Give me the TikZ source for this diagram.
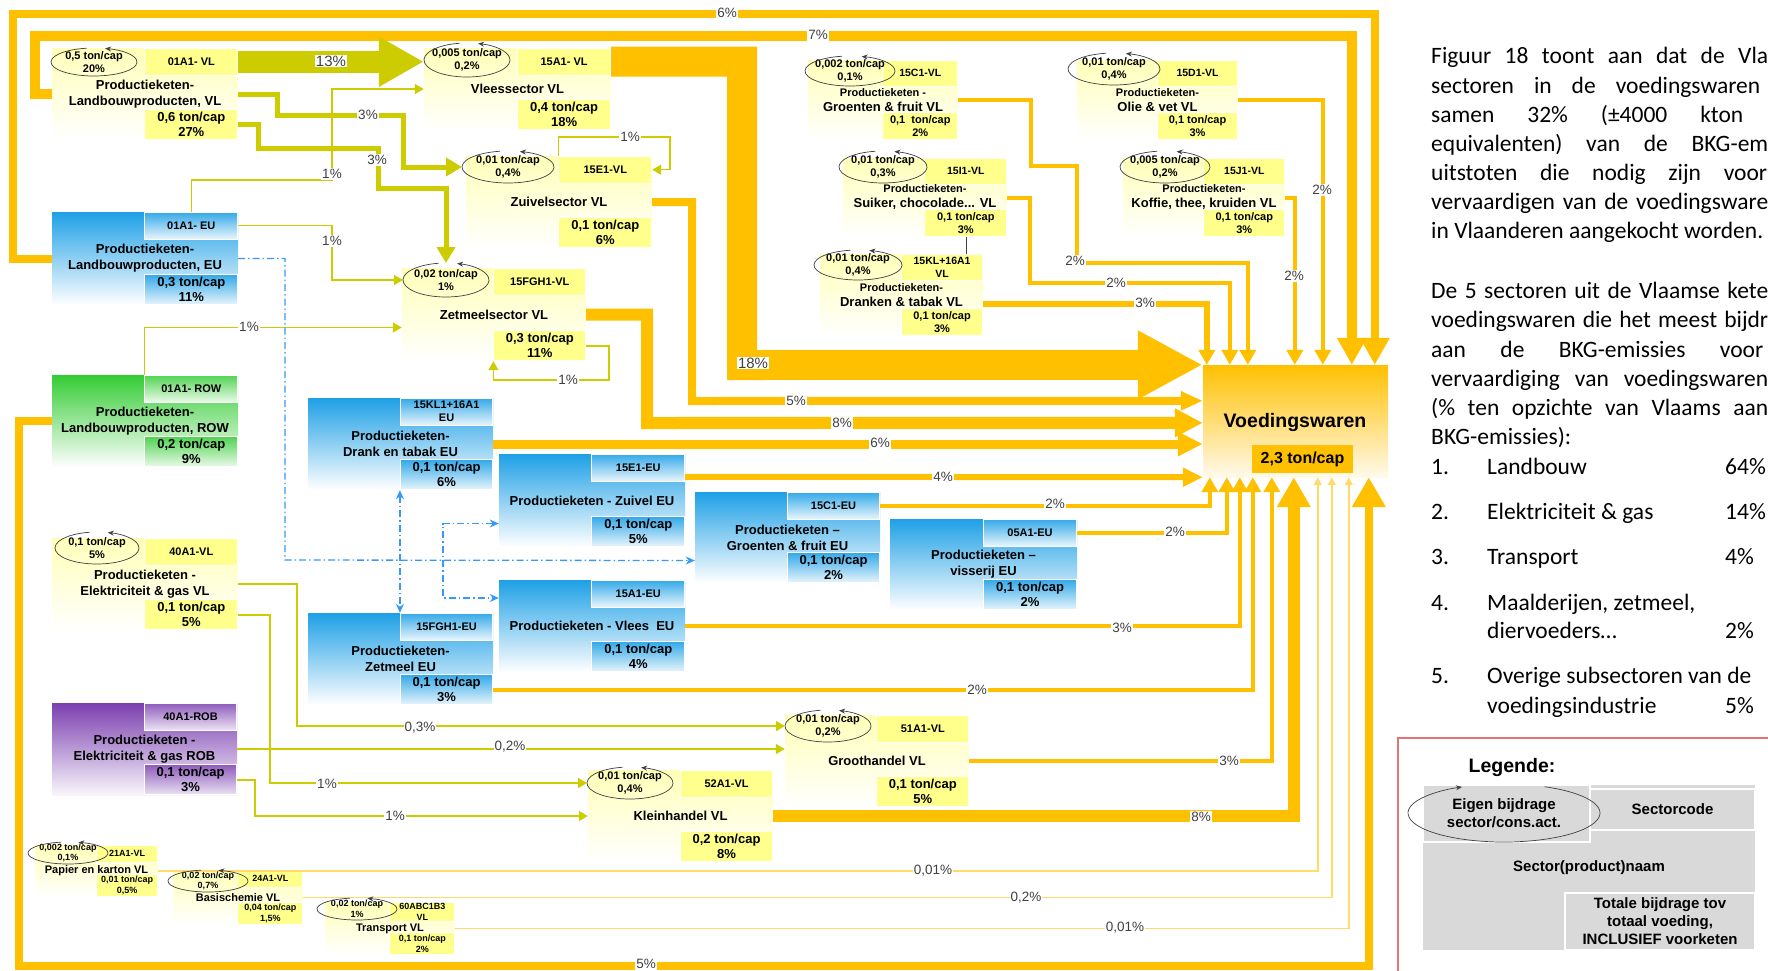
\documentclass[tikz,border=0pt]{standalone}
\usepackage{fontspec}
\setmainfont{Liberation Sans}
\newfontfamily\cali{Carlito}
\usetikzlibrary{arrows.meta}

\definecolor{orng}{HTML}{FFC000}
\definecolor{olv}{HTML}{CCCC00}
\definecolor{lyel}{HTML}{FFDB6E}
\definecolor{bluln}{HTML}{3399FF}
\definecolor{txtg}{HTML}{404040}
\definecolor{cylw}{HTML}{FFFF8C}
\definecolor{cylb}{HTML}{FFFFB8}
\definecolor{cblu}{HTML}{1EA0E6}
\definecolor{cgrn}{HTML}{33CC33}
\definecolor{cprp}{HTML}{7B3FB0}
\definecolor{lgray}{HTML}{D9D9D9}
\definecolor{legred}{HTML}{E57373}

\tikzset{
  sbody/.style={}, scell/.style={}, scode/.style={}, sval/.style={}, stitle/.style={},
  yel/.style={sbody/.style={top color=cylb, bottom color=white},
    scell/.style={fill=cylw, draw=white, line width=0.8}},
  blu/.style={sbody/.style={top color=cblu, bottom color=white},
    scell/.style={top color=cblu!90, bottom color=cblu!10, draw=white, line width=0.8}},
  grn/.style={sbody/.style={top color=cgrn, bottom color=white},
    scell/.style={top color=cgrn!85, bottom color=cgrn!10, draw=white, line width=0.8}},
  prp/.style={sbody/.style={top color=cprp, bottom color=cprp!5},
    scell/.style={top color=cprp!85, bottom color=cprp!15, draw=white, line width=0.8}},
  big/.style={scode/.style={minimum height=27, font=\bfseries\fontsize{11}{13}\selectfont},
    sval/.style={minimum height=30, font=\bfseries\fontsize{13}{15}\selectfont},
    stitle/.style={font=\bfseries\fontsize{13}{16}\selectfont}},
  mid/.style={scode/.style={minimum height=26, font=\bfseries\fontsize{10.5}{13.5}\selectfont},
    sval/.style={minimum height=27, font=\bfseries\fontsize{11}{13.5}\selectfont},
    stitle/.style={font=\bfseries\fontsize{13}{15}\selectfont}},
  tiny/.style={scode/.style={minimum height=17, font=\bfseries\fontsize{9}{11}\selectfont},
    sval/.style={minimum height=22, font=\bfseries\fontsize{9}{11}\selectfont},
    stitle/.style={font=\bfseries\fontsize{11}{13}\selectfont}}
}

\newcommand{\sectornode}[8]{%
  \begin{scope}[#1]
    \node[sbody, inner sep=0, minimum width=#4, minimum height=#5] (#2) at (#3) {};
    \node[scell, scode, inner sep=1, align=center, anchor=north east, minimum width=#4/2] (#2c) at (#2.north east) {#6};
    \node[scell, sval, inner sep=1, align=center, anchor=south east, minimum width=#4/2] (#2v) at (#2.south east) {#8};
    \node[stitle, align=center, inner sep=0] (#2t) at (#2.center) {#7};
  \end{scope}}

\newcommand{\eigenloop}[6][]{%
  \node[eigtxt, #1] (#2) at (#3) {#6};
  \draw[eigloop] ([shift={(-100:#4 and #5)}]#2.center) arc[start angle=-100, end angle=-435, x radius=#4, y radius=#5];}

\begin{document}
\begin{tikzpicture}[x=1pt, y=-1pt,
  ora/.style={draw=orng},
  olvl/.style={draw=olv},
  lyl/.style={draw=lyel, line width=1.5, -{Triangle[length=8pt,width=8pt]}},
  bdash/.style={draw=bluln, line width=1.3, dash pattern=on 7pt off 3pt on 1.5pt off 3pt},
  pct/.style={fill=white, text=txtg, inner sep=1, font=\fontsize{13.5}{15}\selectfont},
  eigtxt/.style={font=\bfseries\fontsize{11}{13}\selectfont, align=center, inner sep=0},
  eigloop/.style={draw=txtg, line width=0.7, -{Stealth[length=6pt,width=5pt]}},
  voedbody/.style={top color=orng, bottom color=orng!8},
  rtxt/.style={font=\cali\fontsize{23.5}{29}\selectfont, inner sep=0, anchor=base west},
  lgbox/.style={fill=lgray, inner sep=0, font=\bfseries\fontsize{15}{18}\selectfont, align=center}]

\fill[white] (0,0) rectangle (1768,970);
\useasboundingbox (0,0) rectangle (1768,970);
\clip (0,0) rectangle (1768,970);

\sectornode{yel,big}{vl01}{145,94}{186}{92}{01A1- VL}{Productieketen-\\Landbouwproducten, VL}{0,6 ton/cap\\27\%}
\sectornode{blu,big}{eu01}{145,258.5}{186}{93}{01A1- EU}{Productieketen-\\Landbouwproducten, EU}{0,3 ton/cap\\11\%}
\sectornode{grn,big}{row01}{145,421}{186}{92}{01A1- ROW}{Productieketen-\\Landbouwproducten, ROW}{0,2 ton/cap\\9\%}
\sectornode{yel,big}{vl40}{145,584}{186}{92}{40A1-VL}{Productieketen -\\Elektriciteit \& gas VL}{0,1 ton/cap\\5\%}
\sectornode{prp,big}{rob40}{144.5,749}{185}{92}{40A1-ROB}{Productieketen -\\Elektriciteit \& gas ROB}{0,1 ton/cap\\3\%}
\sectornode{yel,big}{vl15a}{517.5,89}{187}{82}{15A1- VL}{Vleessector VL}{0,4 ton/cap\\18\%}
\sectornode{yel,big}{vl15e}{559,202}{186}{92}{15E1-VL}{Zuivelsector VL}{0,1 ton/cap\\6\%}
\sectornode{yel,big}{vl15fgh}{494,314.5}{184}{93}{15FGH1-VL}{Zetmeelsector VL}{0,3 ton/cap\\11\%}
\sectornode{blu,big}{eu15kl}{400.5,444}{185}{92}{15KL1+16A1\\EU}{Productieketen-\\Drank en tabak EU}{0,1 ton/cap\\6\%}
\sectornode{blu,big}{eu15e}{592,500.5}{186}{93}{15E1-EU}{Productieketen - Zuivel EU}{0,1 ton/cap\\5\%}
\sectornode{blu,big}{eu15c}{787.5,537.5}{185}{91}{15C1-EU}{Productieketen --\\Groenten \& fruit EU}{0,1 ton/cap\\2\%}
\sectornode{blu,big}{eu05}{983.5,564.5}{187}{91}{05A1-EU}{Productieketen --\\visserij EU}{0,1 ton/cap\\2\%}
\sectornode{blu,big}{eu15fgh}{400.5,659}{185}{92}{15FGH1-EU}{Productieketen-\\Zetmeel EU}{0,1 ton/cap\\3\%}
\sectornode{blu,big}{eu15a}{592,626}{186}{92}{15A1-EU}{Productieketen - Vlees\ \ EU}{0,1 ton/cap\\4\%}
\sectornode{yel,big}{vl51}{877,761}{184}{92}{51A1-VL}{Groothandel VL}{0,1 ton/cap\\5\%}
\sectornode{yel,big}{vl52}{680.5,816}{185}{92}{52A1-VL}{Kleinhandel VL}{0,2 ton/cap\\8\%}
\sectornode{yel,mid}{vl15c}{883,100}{150}{80}{15C1-VL}{{\fontsize{11}{13}\selectfont Productieketen -}\\Groenten \& fruit VL}{0,1\ \ ton/cap\\2\%}
\sectornode{yel,mid}{vl15i}{925,197.5}{164}{79}{15I1-VL}{{\fontsize{11}{13}\selectfont Productieketen-}\\Suiker, chocolade... VL}{0,1 ton/cap\\3\%}
\sectornode{yel,mid}{vl15kl}{901.5,295}{163}{82}{15KL+16A1\\VL}{{\fontsize{11}{13}\selectfont Productieketen-}\\Dranken \& tabak VL}{0,1 ton/cap\\3\%}
\sectornode{yel,mid}{vl15d}{1157.5,100}{161}{80}{15D1-VL}{{\fontsize{11}{13}\selectfont Productieketen-}\\Olie \& vet VL}{0,1 ton/cap\\3\%}
\sectornode{yel,mid}{vl15j}{1204,197.5}{162}{79}{15J1-VL}{{\fontsize{11}{13}\selectfont Productieketen-}\\Koffie, thee, kruiden VL}{0,1 ton/cap\\3\%}
\sectornode{yel,tiny}{vl21}{96.5,871}{123}{52}{21A1-VL}{Papier en karton VL}{0,01 ton/cap\\0,5\%}
\sectornode{yel,tiny}{vl24}{238,897.5}{130}{55}{24A1-VL}{Basischemie VL}{0,04 ton/cap\\1,5\%}
\sectornode{yel,tiny}{vl60}{390,928.5}{130}{53}{60ABC1B3\\VL}{Transport VL}{0,1 ton/cap\\2\%}

\node[voedbody, minimum width=185, minimum height=112] (voed) at (1295.5,421) {};
\node[font=\bfseries\fontsize{19.5}{22}\selectfont] (voedt) at (1295,422) {Voedingswaren};
\node[fill=orng, minimum width=101, minimum height=28, inner sep=0, font=\bfseries\fontsize{16}{18}\selectfont] (voedv) at (1302.5,459) {2,3 ton/cap};

\draw[lyl] (vl21.east) -| ([xshift=115pt]voed.south west);
\draw[lyl] (vl24.east) -| ([xshift=129pt]voed.south west);
\draw[lyl] (vl60.east) -| ([xshift=146pt]voed.south west);

\eigenloop{e01}{94,62}{43}{14}{0,5 ton/cap\\20\%}
\eigenloop{e40}{97,548}{42}{16}{0,1 ton/cap\\5\%}
\eigenloop{e15a}{467,60}{43}{17}{0,005 ton/cap\\0,2\%}
\eigenloop{e15e}{508,167}{46}{16}{0,01 ton/cap\\0,4\%}
\eigenloop{e15fgh}{446,280}{43}{17}{0,02 ton/cap\\1\%}
\eigenloop{e15c}{850,71}{45}{15}{0,002 ton/cap\\0,1\%}
\eigenloop{e15i}{883,167}{44}{16}{0,01 ton/cap\\0,3\%}
\eigenloop{e15kl}{858,265}{44}{15}{0,01 ton/cap\\0,4\%}
\eigenloop{e15d}{1114,69}{46}{16}{0,01 ton/cap\\0,4\%}
\eigenloop{e15j}{1165,167}{45}{16}{0,005 ton/cap\\0,2\%}
\eigenloop{e51}{828,726}{43}{16}{0,01 ton/cap\\0,2\%}
\eigenloop{e52}{630,783}{43}{16}{0,01 ton/cap\\0,4\%}
\eigenloop[font=\bfseries\fontsize{9}{10.5}\selectfont]{e21}{68,853}{40}{11}{0,002 ton/cap\\0,1\%}
\eigenloop[font=\bfseries\fontsize{9}{10.5}\selectfont]{e24}{208,881}{40}{11}{0,02 ton/cap\\0,7\%}
\eigenloop[font=\bfseries\fontsize{9}{10.5}\selectfont]{e60}{357,909}{40}{11}{0,02 ton/cap\\1\%}

\draw[ora, line width=10, -{Triangle[length=27pt,width=28pt]}] (vl01.west) -| (35,36) -| ([xshift=149pt]voed.north west);
\draw[ora, line width=8, -{Triangle[length=27pt,width=28pt]}] (eu01.west) -| (13,14) -| ([xshift=172pt]voed.north west);
\draw[ora, line width=30, -{Triangle[length=65pt,width=64pt]}] (vl15ac.east) -| (742,365) -- (voed.north west);
\draw[ora, line width=8, -{Triangle[length=22pt,width=18pt]}] (vl15e.east) -| (692,401) -- ([yshift=-36pt]voed.north west);
\draw[ora, line width=12, -{Triangle[length=28pt,width=27pt]}] (vl15fgh.east) -| (647,423) -- ([yshift=-58pt]voed.north west);
\draw[ora, line width=9, -{Triangle[length=25pt,width=23pt]}] (eu15kl.east) -- (eu15kl.east -| voed.west);
\draw[ora, line width=6, -{Triangle[length=20pt,width=18pt]}] ([yshift=-23pt]eu15ec.north east) -- (voed.south west);
\draw[ora, line width=4, -{Triangle[length=15pt,width=16pt]}] (vl15c.east) -| (1031,166) -| (1077,263) -| ([xshift=45pt]voed.north west);
\draw[ora, line width=4, -{Triangle[length=15pt,width=16pt]}] (vl15i.east) -| (1030,283) -| ([xshift=27pt]voed.north west);
\draw[ora, line width=6, -{Triangle[length=15pt,width=16pt]}] ([yshift=-9pt]vl15kl.east) -| ([xshift=4pt]voed.north west);
\draw[ora, line width=4, -{Triangle[length=15pt,width=16pt]}] (vl15d.east) -| ([xshift=120pt]voed.north west);
\draw[ora, line width=4, -{Triangle[length=15pt,width=16pt]}] (vl15j.east) -| ([xshift=92pt]voed.north west);
\draw[ora, line width=4, -{Triangle[length=15pt,width=16pt]}] (eu15cc.east) -| ([xshift=7pt]voed.south west);
\draw[ora, line width=4, -{Triangle[length=15pt,width=16pt]}] (eu05c.east) -| ([xshift=24pt]voed.south west);
\draw[ora, line width=4, -{Triangle[length=15pt,width=16pt]}] (eu15a.east) -| ([xshift=37pt]voed.south west);
\draw[ora, line width=4, -{Triangle[length=15pt,width=16pt]}] (eu15fghv.east) -| ([xshift=50pt]voed.south west);
\draw[ora, line width=4, -{Triangle[length=15pt,width=16pt]}] (vl51.east) -| ([xshift=69pt]voed.south west);
\draw[ora, line width=12, -{Triangle[length=30pt,width=32pt]}] (vl52.east) -| ([xshift=91pt]voed.south west);
\draw[ora, line width=8, -{Triangle[length=30pt,width=32pt]}] (row01.west) -| (19,966) -| ([xshift=166pt]voed.south west);

\draw[olvl, line width=22, -{Triangle[length=45pt,width=47pt]}] (vl01c.east) -- (vl01c.east -| vl15a.west);
\draw[olvl, line width=5, -{Triangle[length=16pt,width=18pt]}] (vl01.east) -| (277,115) -| (403,167) -- ([xshift=-46pt]e15e.center);
\draw[olvl, line width=5, -{Triangle[length=16pt,width=18pt]}] (vl01v.east) -| (258,148) -| (378,188) -| ([yshift=17pt]e15fgh.center);
\draw[olvl, line width=1.5, -{Triangle[length=9pt,width=10pt]}] (eu01c.north) |- (332,180) |- (vl15a.west);
\draw[olvl, line width=1.5, -{Triangle[length=9pt,width=10pt]}] (eu01c.east) -| (332,280) -- ([xshift=-43pt]e15fgh.center);
\draw[olvl, line width=1.5, -{Triangle[length=9pt,width=10pt]}] (row01c.north west) |- ([yshift=-13pt]vl15fgh.west);
\draw[olvl, line width=1.5, -{Triangle[length=9pt,width=10pt]}] (vl15fghv.east) -| (609,380) -| (vl15fghv.south west);
\draw[olvl, line width=1.5, -{Triangle[length=9pt,width=10pt]}] (vl15ec.north west) |- (670,137) |- (vl15ec.east);
\draw[olvl, line width=1.5, -{Triangle[length=9pt,width=10pt]}] (vl40.east) -| (297,726) -- ([xshift=-43pt]e51.center);
\draw[olvl, line width=1.5, -{Triangle[length=9pt,width=10pt]}] (vl40v.east) -| (270,783) -- ([xshift=-43pt]e52.center);
\draw[olvl, line width=1.5, -{Triangle[length=9pt,width=10pt]}] (rob40.east) -- (rob40.east -| vl51.west);
\draw[olvl, line width=1.5, -{Triangle[length=9pt,width=10pt]}] (rob40v.east) -| (255,816) -- (vl52.west);

\draw[bdash, -{Stealth[length=9pt,width=8pt]}] (eu01.east) -| (285,560) -- ([yshift=-23pt]eu15c.west);
\draw[bdash, {Stealth[length=9pt,width=8pt]}-{Stealth[length=9pt,width=8pt]}] (eu15klv.south west) -- (eu15fghc.north west);
\draw[bdash, {Stealth[length=9pt,width=8pt]}-{Stealth[length=9pt,width=8pt]}] ([yshift=-23pt]eu15e.west) -| (443,598) -- ([yshift=28pt]eu15a.west);
\draw[txtg, line width=0.6] (vl15iv.south) -- (vl15iv.south |- vl15klc.north);

\node[pct, font=\fontsize{15}{16}\selectfont] (p13) at (331,61) {13\%};
\node[pct] (p3a) at (368,115) {3\%};
\node[pct] (p3b) at (377,160) {3\%};
\node[pct] (p1a) at (332,174) {1\%};
\node[pct] (p1b) at (332,241) {1\%};
\node[pct] (p1c) at (249,327) {1\%};
\node[pct] (p1d) at (630,137) {1\%};
\node[pct] (p1e) at (568,380) {1\%};
\node[pct] (p6a) at (727,13) {6\%};
\node[pct] (p7) at (818,35) {7\%};
\node[pct, font=\fontsize{15}{16}\selectfont] (p18) at (753,363) {18\%};
\node[pct] (p5a) at (796,401) {5\%};
\node[pct] (p8a) at (842,423) {8\%};
\node[pct] (p6b) at (880,443) {6\%};
\node[pct] (p4) at (943,477) {4\%};
\node[pct] (p2a) at (1075,261) {2\%};
\node[pct] (p2b) at (1116,283) {2\%};
\node[pct] (p3c) at (1145,303) {3\%};
\node[pct] (p2c) at (1322,190) {2\%};
\node[pct] (p2d) at (1294,276) {2\%};
\node[pct] (p2e) at (1055,504) {2\%};
\node[pct] (p2f) at (1175,532) {2\%};
\node[pct] (p3d) at (1122,628) {3\%};
\node[pct] (p2g) at (977,690) {2\%};
\node[pct] (p03) at (420,728) {0,3\%};
\node[pct] (p02a) at (510,747) {0,2\%};
\node[pct] (p1f) at (327,784) {1\%};
\node[pct] (p1g) at (395,816) {1\%};
\node[pct] (p3e) at (1229,761) {3\%};
\node[pct] (p8b) at (1201,817) {8\%};
\node[pct] (p001a) at (933,871) {0,01\%};
\node[pct] (p02b) at (1026,898) {0,2\%};
\node[pct] (p001b) at (1125,928) {0,01\%};
\node[pct] (p5b) at (646,964) {5\%};

\node[rtxt] (t1) at (1431,63) {\makebox[337pt][s]{Figuur 18 toont aan dat de Vla}};
\node[rtxt] (t2) at (1431,93) {\makebox[329pt][s]{sectoren in de voedingswaren}};
\node[rtxt] (t3) at (1431,122) {\makebox[312pt][s]{samen 32\% (±4000 kton}};
\node[rtxt] (t4) at (1431,151) {\makebox[337pt][s]{equivalenten) van de BKG-em}};
\node[rtxt] (t5) at (1431,180) {\makebox[336pt][s]{uitstoten die nodig zijn voor}};
\node[rtxt] (t6) at (1431,209) {\makebox[337pt][s]{vervaardigen van de voedingsware}};
\node[rtxt] (t7) at (1431,238) {in Vlaanderen aangekocht worden.};
\node[rtxt] (t8) at (1431,298) {\makebox[337pt][s]{De 5 sectoren uit de Vlaamse kete}};
\node[rtxt] (t9) at (1431,327) {\makebox[337pt][s]{voedingswaren die het meest bijdr}};
\node[rtxt] (t10) at (1431,357) {\makebox[332pt][s]{aan de BKG-emissies voor}};
\node[rtxt] (t11) at (1431,386) {\makebox[337pt][s]{vervaardiging van voedingswaren}};
\node[rtxt] (t12) at (1431,415) {\makebox[337pt][s]{(\% ten opzichte van Vlaams aan}};
\node[rtxt] (t13) at (1431,444) {BKG-emissies):};
\node[rtxt] (n1) at (1431,474) {1.};
\node[rtxt] (i1) at (1487,474) {Landbouw};
\node[rtxt] (v1) at (1725,474) {64\%};
\node[rtxt] (n2) at (1431,519) {2.};
\node[rtxt] (i2) at (1487,519) {Elektriciteit \& gas};
\node[rtxt] (v2) at (1725,519) {14\%};
\node[rtxt] (n3) at (1431,564) {3.};
\node[rtxt] (i3) at (1487,564) {Transport};
\node[rtxt] (v3) at (1725,564) {4\%};
\node[rtxt] (n4) at (1431,610) {4.};
\node[rtxt] (i4) at (1487,610) {Maalderijen, zetmeel,};
\node[rtxt] (i4b) at (1487,638) {diervoeders…};
\node[rtxt] (v4) at (1725,638) {2\%};
\node[rtxt] (n5) at (1431,683) {5.};
\node[rtxt] (i5) at (1487,683) {Overige subsectoren van de};
\node[rtxt] (i5b) at (1487,713) {voedingsindustrie};
\node[rtxt] (v5) at (1725,713) {5\%};

\draw[legred, line width=1.2] (1398,975) |- (1775,738);
\node[font=\bfseries\fontsize{19.5}{22}\selectfont] (lgt) at (1512,767) {Legende:};
\node[lgbox, minimum width=332, minimum height=165] (lgnaam) at (1589,867.5) {Sector(product)naam};
\node[lgbox, draw=white, line width=1.2, minimum width=167, minimum height=57] (lgeig) at (1506.5,813.5) {};
\node[lgbox, draw=white, line width=1.2, minimum width=165, minimum height=41] (lgcode) at (1672.5,809.5) {Sectorcode};
\node[lgbox, draw=white, line width=1.2, minimum width=190, minimum height=57] (lgtot) at (1660,921.5) {Totale bijdrage tov\\totaal voeding,\\INCLUSIEF voorketen};
\node[lgbox, fill=none] (lgell) at (1504,813) {Eigen bijdrage\\sector/cons.act.};
\draw[eigloop] ([shift={(-65:96 and 29)}]lgell.center) arc[start angle=-65, end angle=244, x radius=96, y radius=29];

\end{tikzpicture}
\end{document}
